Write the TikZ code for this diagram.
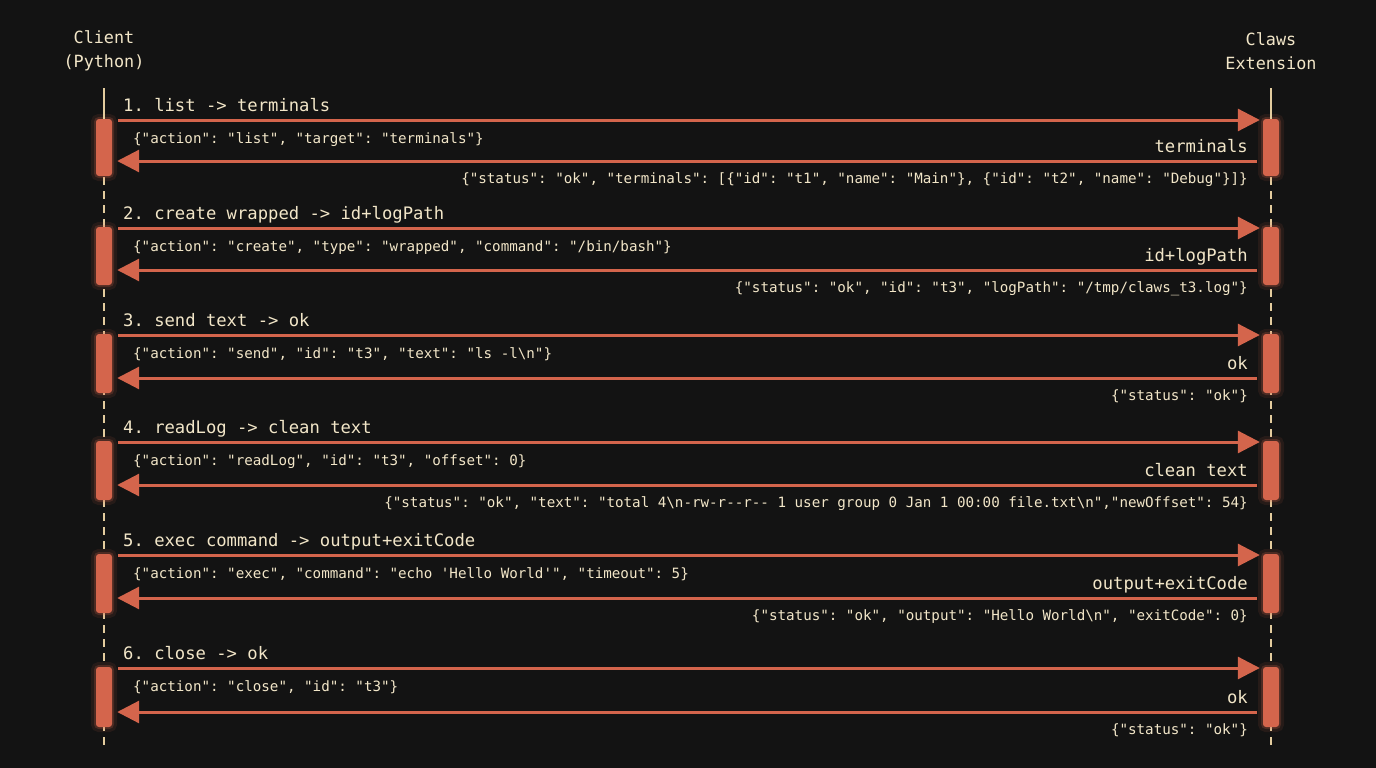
\documentclass[tikz,border=0pt]{standalone}
\usepackage{fontspec}
\setmonofont{DejaVu Sans Mono}
\usetikzlibrary{arrows.meta}
\definecolor{bg}{HTML}{131313}
\definecolor{acc}{HTML}{D4654C}
\definecolor{txt}{HTML}{F2E6C8}
\definecolor{life}{HTML}{E3CC9E}
\tikzset{
  actbox/.style={fill=acc, rounded corners=3pt, minimum width=16pt, inner sep=0pt,
    preaction={draw=acc, draw opacity=0.10, line width=10pt},
    preaction={draw=acc, draw opacity=0.22, line width=4pt}},
  msg/.style={draw=acc, line width=3pt, -{Triangle[length=22pt,width=22pt]}},
  lbl/.style={text=txt, font=\ttfamily\fontsize{17.2}{20}\selectfont, inner sep=0pt},
  json/.style={text=txt, font=\ttfamily\fontsize{14.2}{17}\selectfont, inner sep=0pt},
  head/.style={text=txt, font=\ttfamily\fontsize{16.8}{24}\selectfont, align=center, inner sep=0pt},
  lifes/.style={draw=life, line width=2pt},
  lifed/.style={draw=life, line width=2pt, dash pattern=on 8pt off 6pt},
}
\newcommand{\msgstep}[7]{%
  % #1 fwd y, #2 return y, #3 index, #4 label, #5 request, #6 return label, #7 response
  \coordinate (f#3) at (0,#1);
  \coordinate (r#3) at (0,#2);
  \node[actbox, minimum height={#2-#1+16}] (c#3) at (104,{(#1+#2)/2+7}) {};
  \node[actbox, minimum height={#2-#1+16}] (e#3) at (1271,{(#1+#2)/2+7}) {};
  \node[lbl, anchor=base west] (l#3) at (123,{#1-9}) {#4};
  \node[json, anchor=base west] (q#3) at (133,{#1+23}) {#5};
  \node[lbl, anchor=base east] (rl#3) at (1248,{#2-9}) {#6};
  \node[json, anchor=base east] (rs#3) at (1248,{#2+22}) {#7};
  \draw[msg, shorten <=6pt, shorten >=3pt] (c#3.east |- f#3) -- (e#3.west |- f#3);
  \draw[msg, shorten <=6pt, shorten >=5pt] (e#3.west |- r#3) -- (c#3.east |- r#3);
}
\begin{document}
\begin{tikzpicture}[x=1pt, y=-1pt]
  \fill[bg] (0,0) rectangle (1376,768);
  \useasboundingbox (0,0) rectangle (1376,768);

  \node[head] (hc) at (104,51) {Client\\(Python)};
  \node[head] (he) at (1271,51) {Claws\\Extension};
  \coordinate (ct) at (104,88);
  \coordinate (et) at (1271,88);
  \coordinate (cm) at (104,177);
  \coordinate (em) at (1271,177);
  \coordinate (cb) at (104,745);
  \coordinate (eb) at (1271,745);
  \draw[lifed] (cm) -- (cb);
  \draw[lifed] (em) -- (eb);

  \msgstep{120}{161}{1}{1. list -> terminals}
    {\{"action": "list", "target": "terminals"\}}
    {terminals}
    {\{"status": "ok", "terminals": [\{"id": "t1", "name": "Main"\}, \{"id": "t2", "name": "Debug"\}]\}}
  \msgstep{228}{270}{2}{2. create wrapped -> id+logPath}
    {\{"action": "create", "type": "wrapped", "command": "/bin/bash"\}}
    {id+logPath}
    {\{"status": "ok", "id": "t3", "logPath": "/tmp/claws\_t3.log"\}}
  \msgstep{335}{378}{3}{3. send text -> ok}
    {\{"action": "send", "id": "t3", "text": "ls -l\textbackslash n"\}}
    {ok}
    {\{"status": "ok"\}}
  \msgstep{442}{485}{4}{4. readLog -> clean text}
    {\{"action": "readLog", "id": "t3", "offset": 0\}}
    {clean text}
    {\{"status": "ok", "text": "total 4\textbackslash n-rw-r--r-- 1 user group 0 Jan 1 00:00 file.txt\textbackslash n","newOffset": 54\}}
  \msgstep{555}{598}{5}{5. exec command -> output+exitCode}
    {\{"action": "exec", "command": "echo 'Hello World'", "timeout": 5\}}
    {output+exitCode}
    {\{"status": "ok", "output": "Hello World\textbackslash n", "exitCode": 0\}}
  \msgstep{668}{712}{6}{6. close -> ok}
    {\{"action": "close", "id": "t3"\}}
    {ok}
    {\{"status": "ok"\}}

  \draw[lifes] (ct) -- (c1.north);
  \draw[lifes] (et) -- (e1.north);
\end{tikzpicture}
\end{document}
